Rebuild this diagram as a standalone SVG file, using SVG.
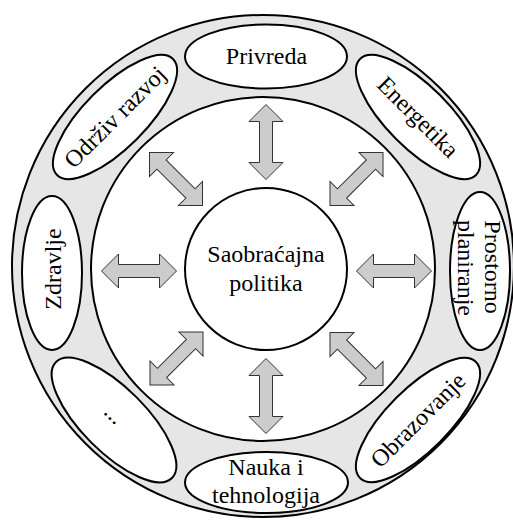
<svg xmlns="http://www.w3.org/2000/svg" width="513" height="521" viewBox="0 0 513 521">
<style>
.ring{fill:#e6e6e6;stroke:#000;stroke-width:2}
.circ{fill:#fff;stroke:#000;stroke-width:2}
.node{fill:#fff;stroke:#000;stroke-width:2}
.lbl{font-family:"Liberation Serif","Times New Roman",serif;font-size:24px;fill:#000;text-anchor:middle}
.arr{fill:#cccccc;stroke:#333;stroke-width:1}
</style>
<defs>
<path id="dbl" d="M-37.5,0 L-20.5,-17 L-20.5,-6.5 L20.5,-6.5 L20.5,-17 L37.5,0 L20.5,17 L20.5,6.5 L-20.5,6.5 L-20.5,17 Z"/>
</defs>
<rect width="513" height="521" fill="#fff"/>
<g id="ring">
<circle class="ring" cx="263" cy="266" r="251"/>
<circle class="circ" cx="263" cy="269" r="172"/>
</g>
<g id="connectors">
<use href="#dbl" class="arr" transform="translate(266,142) rotate(90)"/>
<use href="#dbl" class="arr" transform="translate(266,396) rotate(90)"/>
<use href="#dbl" class="arr" transform="translate(139,271)"/>
<use href="#dbl" class="arr" transform="translate(394,271)"/>
<use href="#dbl" class="arr" transform="translate(176,179) rotate(45)"/>
<use href="#dbl" class="arr" transform="translate(356.5,179) rotate(-45)"/>
<use href="#dbl" class="arr" transform="translate(176.5,358.5) rotate(-45)"/>
<use href="#dbl" class="arr" transform="translate(356.5,359) rotate(45)"/>
</g>
<g id="center">
<circle class="circ" cx="266" cy="269" r="81"/>
<text class="lbl" x="266" y="262">Saobraćajna</text>
<text class="lbl" x="266" y="291">politika</text>
</g>
<g id="privreda">
<ellipse class="node" cx="266" cy="56.5" rx="81" ry="32"/>
<text class="lbl" x="266.5" y="64">Privreda</text>
</g>
<g id="energetika" transform="translate(418,117) rotate(45)">
<ellipse class="node" cx="0" cy="0" rx="82" ry="31"/>
<text class="lbl" x="0" y="8">Energetika</text>
</g>
<g id="prostorno" transform="translate(480,271) rotate(90)">
<ellipse class="node" cx="0" cy="0" rx="79" ry="30"/>
<text class="lbl" x="-4" y="-5">Prostorno</text>
<text class="lbl" x="-3" y="22">planiranje</text>
</g>
<g id="obrazovanje" transform="translate(418,420) rotate(-45)">
<ellipse class="node" cx="0" cy="0" rx="82" ry="31"/>
<text class="lbl" x="0" y="8">Obrazovanje</text>
</g>
<g id="nauka">
<ellipse class="node" cx="266.5" cy="482.5" rx="81.5" ry="30.5"/>
<text class="lbl" x="266" y="475">Nauka i</text>
<text class="lbl" x="266" y="503">tehnologija</text>
</g>
<g id="ostalo" transform="translate(114,420) rotate(45)">
<ellipse class="node" cx="0" cy="0" rx="82" ry="32"/>
<text class="lbl" x="-4" y="3">...</text>
</g>
<g id="zdravlje" transform="translate(52,273) rotate(-90)">
<ellipse class="node" cx="0" cy="0" rx="77" ry="30"/>
<text class="lbl" x="4" y="9">Zdravlje</text>
</g>
<g id="odrziv" transform="translate(115,117) rotate(-45)">
<ellipse class="node" cx="0" cy="0" rx="82" ry="31"/>
<text class="lbl" x="0" y="8">Održiv razvoj</text>
</g>
</svg>
